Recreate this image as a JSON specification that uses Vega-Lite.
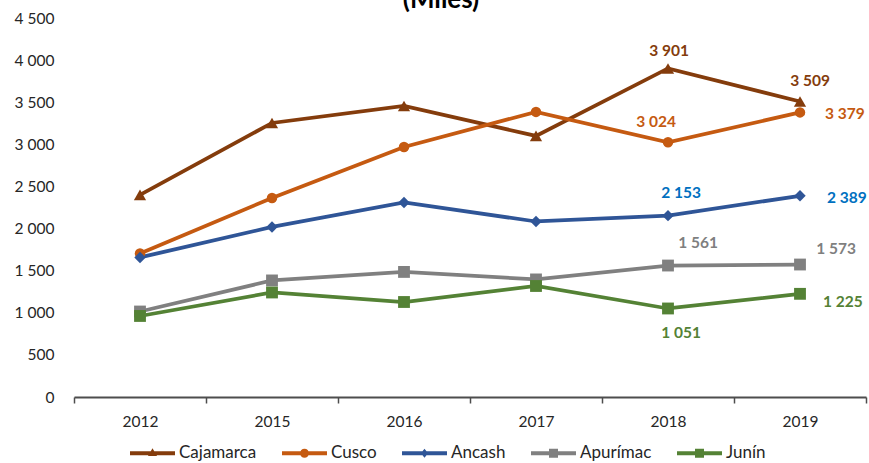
{
  "$schema": "https://vega.github.io/schema/vega-lite/v6.json",
  "width": 792,
  "height": 379,
  "autosize": {"type": "none"},
  "padding": {"left": 74, "top": 18, "right": 3, "bottom": 66},
  "background": "white",
  "title": {
    "text": "(Miles)",
    "font": "Lato",
    "fontSize": 26,
    "fontWeight": "bold",
    "color": "#000000",
    "anchor": "middle",
    "frame": "group",
    "baseline": "alphabetic",
    "offset": 1,
    "dx": -29,
    "dy": 24
  },
  "data": {
    "values": [
      {"series": "Cajamarca", "year": "2012", "value": 2400},
      {"series": "Cajamarca", "year": "2015", "value": 3254},
      {"series": "Cajamarca", "year": "2016", "value": 3456},
      {"series": "Cajamarca", "year": "2017", "value": 3100},
      {"series": "Cajamarca", "year": "2018", "value": 3901},
      {"series": "Cajamarca", "year": "2019", "value": 3509},
      {"series": "Cusco", "year": "2012", "value": 1705},
      {"series": "Cusco", "year": "2015", "value": 2363},
      {"series": "Cusco", "year": "2016", "value": 2969},
      {"series": "Cusco", "year": "2017", "value": 3385},
      {"series": "Cusco", "year": "2018", "value": 3024},
      {"series": "Cusco", "year": "2019", "value": 3379},
      {"series": "Ancash", "year": "2012", "value": 1657},
      {"series": "Ancash", "year": "2015", "value": 2019},
      {"series": "Ancash", "year": "2016", "value": 2310},
      {"series": "Ancash", "year": "2017", "value": 2084},
      {"series": "Ancash", "year": "2018", "value": 2153},
      {"series": "Ancash", "year": "2019", "value": 2389},
      {"series": "Apurímac", "year": "2012", "value": 1015},
      {"series": "Apurímac", "year": "2015", "value": 1384},
      {"series": "Apurímac", "year": "2016", "value": 1485},
      {"series": "Apurímac", "year": "2017", "value": 1396},
      {"series": "Apurímac", "year": "2018", "value": 1561},
      {"series": "Apurímac", "year": "2019", "value": 1573},
      {"series": "Junín", "year": "2012", "value": 962},
      {"series": "Junín", "year": "2015", "value": 1241},
      {"series": "Junín", "year": "2016", "value": 1128},
      {"series": "Junín", "year": "2017", "value": 1318},
      {"series": "Junín", "year": "2018", "value": 1051},
      {"series": "Junín", "year": "2019", "value": 1225}
    ]
  },
  "encoding": {
    "x": {
      "field": "year",
      "type": "ordinal",
      "scale": {"type": "band", "paddingInner": 0, "paddingOuter": 0},
      "axis": {
        "title": null,
        "labelAngle": 0,
        "labelFont": "Lato",
        "labelFontSize": 15.5,
        "labelColor": "#262626",
        "labelPadding": 11,
        "domainColor": "#4d4d4d",
        "domainWidth": 2,
        "tickColor": "#4d4d4d",
        "tickWidth": 1.5,
        "tickSize": 6,
        "tickBand": "extent",
        "grid": false
      }
    },
    "y": {
      "field": "value",
      "type": "quantitative",
      "scale": {"domain": [0, 4500], "nice": false, "zero": true},
      "axis": {
        "title": null,
        "values": [0, 500, 1000, 1500, 2000, 2500, 3000, 3500, 4000, 4500],
        "format": ",.0f",
        "labelFont": "Lato",
        "labelFontSize": 15.5,
        "labelColor": "#262626",
        "labelPadding": 20,
        "domain": false,
        "ticks": false,
        "grid": false
      }
    }
  },
  "layer": [
    {
      "transform": [{"filter": "datum.series == 'Cajamarca'"}],
      "mark": {"type": "line", "strokeWidth": 3.75, "color": "#843C0C"}
    },
    {
      "transform": [{"filter": "datum.series == 'Cusco'"}],
      "mark": {"type": "line", "strokeWidth": 3.75, "color": "#C55A11"}
    },
    {
      "transform": [{"filter": "datum.series == 'Ancash'"}],
      "mark": {"type": "line", "strokeWidth": 3.75, "color": "#2F5597"}
    },
    {
      "transform": [{"filter": "datum.series == 'Apurímac'"}],
      "mark": {"type": "line", "strokeWidth": 3.75, "color": "#808080"}
    },
    {
      "transform": [{"filter": "datum.series == 'Junín'"}],
      "mark": {"type": "line", "strokeWidth": 3.75, "color": "#548235"}
    },
    {
      "transform": [{"filter": "datum.series == 'Cajamarca'"}],
      "mark": {"type": "point", "shape": "triangle-up", "filled": true, "opacity": 1, "size": 150, "color": "#843C0C"}
    },
    {
      "transform": [{"filter": "datum.series == 'Cusco'"}],
      "mark": {"type": "point", "shape": "circle", "filled": true, "opacity": 1, "size": 110, "color": "#C55A11"}
    },
    {
      "transform": [{"filter": "datum.series == 'Ancash'"}],
      "mark": {"type": "point", "shape": "diamond", "filled": true, "opacity": 1, "size": 130, "color": "#2F5597"}
    },
    {
      "transform": [{"filter": "datum.series == 'Apurímac'"}],
      "mark": {"type": "point", "shape": "square", "filled": true, "opacity": 1, "size": 140, "color": "#808080"}
    },
    {
      "transform": [{"filter": "datum.series == 'Junín'"}],
      "mark": {"type": "point", "shape": "square", "filled": true, "opacity": 1, "size": 140, "color": "#548235"}
    },
    {
      "mark": {"type": "point", "filled": true, "opacity": 0},
      "encoding": {
        "color": {
          "field": "series",
          "type": "nominal",
          "scale": {
            "domain": ["Cajamarca", "Cusco", "Ancash", "Apurímac", "Junín"],
            "range": ["#843C0C", "#C55A11", "#2F5597", "#808080", "#548235"]
          },
          "legend": {
            "title": null,
            "orient": "none",
            "direction": "horizontal",
            "legendX": 56,
            "legendY": 412.5,
            "symbolSize": 2025,
            "symbolOpacity": 1,
            "symbolStrokeWidth": 0,
            "labelFont": "Lato",
            "labelFontSize": 17,
            "labelColor": "#262626",
            "labelOffset": 4,
            "columnPadding": 25
          }
        },
        "shape": {
          "field": "series",
          "type": "nominal",
          "scale": {
            "domain": ["Cajamarca", "Cusco", "Ancash", "Apurímac", "Junín"],
            "range": [
              "M-1,-0.09H1V0.09H-1Z M-0.2,0.12L0,-0.22L0.2,0.12Z",
              "M-1,-0.09H1V0.09H-1Z M-0.2,0A0.2,0.2 0 1,1 0.2,0A0.2,0.2 0 1,1 -0.2,0Z",
              "M-1,-0.09H1V0.09H-1Z M0,-0.2L0.16,0L0,0.2L-0.16,0Z",
              "M-1,-0.09H1V0.09H-1Z M-0.2,-0.2H0.2V0.2H-0.2Z",
              "M-1,-0.09H1V0.09H-1Z M-0.2,-0.2H0.2V0.2H-0.2Z"
            ]
          },
          "legend": {
            "title": null,
            "orient": "none",
            "direction": "horizontal",
            "legendX": 56,
            "legendY": 412.5,
            "symbolSize": 2025,
            "symbolOpacity": 1,
            "symbolStrokeWidth": 0,
            "labelFont": "Lato",
            "labelFontSize": 17,
            "labelColor": "#262626",
            "labelOffset": 4,
            "columnPadding": 25
          }
        }
      }
    },
    {
      "transform": [{"filter": "datum.series == 'Cajamarca' && datum.year == '2018'"}],
      "mark": {"type": "text", "dx": 1, "dy": -17, "color": "#843C0C", "font": "Lato", "fontSize": 15.5, "fontWeight": "bold"},
      "encoding": {"text": {"field": "value", "type": "quantitative", "format": ","}}
    },
    {
      "transform": [{"filter": "datum.series == 'Cajamarca' && datum.year == '2019'"}],
      "mark": {"type": "text", "dx": 10, "dy": -20, "color": "#843C0C", "font": "Lato", "fontSize": 15.5, "fontWeight": "bold"},
      "encoding": {"text": {"field": "value", "type": "quantitative", "format": ","}}
    },
    {
      "transform": [{"filter": "datum.series == 'Cusco' && datum.year == '2018'"}],
      "mark": {"type": "text", "dx": -12, "dy": -20, "color": "#C55A11", "font": "Lato", "fontSize": 15.5, "fontWeight": "bold"},
      "encoding": {"text": {"field": "value", "type": "quantitative", "format": ","}}
    },
    {
      "transform": [{"filter": "datum.series == 'Cusco' && datum.year == '2019'"}],
      "mark": {"type": "text", "align": "left", "dx": 25, "dy": 1.5, "color": "#C55A11", "font": "Lato", "fontSize": 15.5, "fontWeight": "bold"},
      "encoding": {"text": {"field": "value", "type": "quantitative", "format": ","}}
    },
    {
      "transform": [{"filter": "datum.series == 'Ancash' && datum.year == '2018'"}],
      "mark": {"type": "text", "dx": 13, "dy": -23, "color": "#0070C0", "font": "Lato", "fontSize": 15.5, "fontWeight": "bold"},
      "encoding": {"text": {"field": "value", "type": "quantitative", "format": ","}}
    },
    {
      "transform": [{"filter": "datum.series == 'Ancash' && datum.year == '2019'"}],
      "mark": {"type": "text", "align": "left", "dx": 27, "dy": 2, "color": "#0070C0", "font": "Lato", "fontSize": 15.5, "fontWeight": "bold"},
      "encoding": {"text": {"field": "value", "type": "quantitative", "format": ","}}
    },
    {
      "transform": [{"filter": "datum.series == 'Apurímac' && datum.year == '2018'"}],
      "mark": {"type": "text", "dx": 30, "dy": -23, "color": "#7F7F7F", "font": "Lato", "fontSize": 15.5, "fontWeight": "bold"},
      "encoding": {"text": {"field": "value", "type": "quantitative", "format": ","}}
    },
    {
      "transform": [{"filter": "datum.series == 'Apurímac' && datum.year == '2019'"}],
      "mark": {"type": "text", "dx": 36, "dy": -16, "color": "#7F7F7F", "font": "Lato", "fontSize": 15.5, "fontWeight": "bold"},
      "encoding": {"text": {"field": "value", "type": "quantitative", "format": ","}}
    },
    {
      "transform": [{"filter": "datum.series == 'Junín' && datum.year == '2018'"}],
      "mark": {"type": "text", "dx": 13, "dy": 25, "color": "#548235", "font": "Lato", "fontSize": 15.5, "fontWeight": "bold"},
      "encoding": {"text": {"field": "value", "type": "quantitative", "format": ","}}
    },
    {
      "transform": [{"filter": "datum.series == 'Junín' && datum.year == '2019'"}],
      "mark": {"type": "text", "align": "left", "dx": 23, "dy": 8.5, "color": "#548235", "font": "Lato", "fontSize": 15.5, "fontWeight": "bold"},
      "encoding": {"text": {"field": "value", "type": "quantitative", "format": ","}}
    }
  ],
  "config": {
    "view": {"stroke": null},
    "locale": {
      "number": {"decimal": ",", "thousands": " ", "grouping": [3], "currency": ["", ""]}
    }
  }
}
